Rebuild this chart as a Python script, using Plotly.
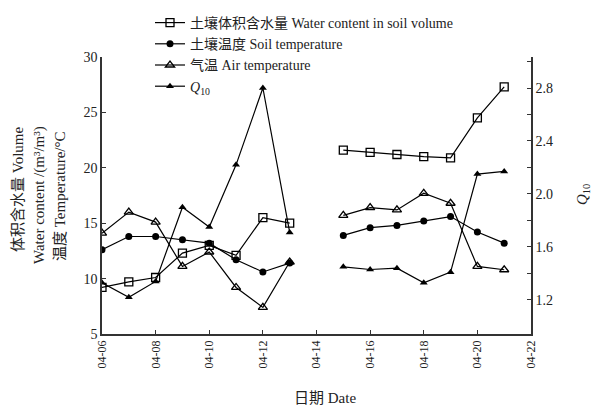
import plotly.graph_objects as go

dates = ["2024-04-06", "2024-04-07", "2024-04-08", "2024-04-09", "2024-04-10", "2024-04-11",
         "2024-04-12", "2024-04-13", "2024-04-14", "2024-04-15", "2024-04-16", "2024-04-17",
         "2024-04-18", "2024-04-19", "2024-04-20", "2024-04-21"]
water_content = [9.2, 9.7, 10.1, 12.3, 13.0, 12.1, 15.5, 15.0, None,
                 21.6, 21.4, 21.2, 21.0, 20.9, 24.5, 27.3]
soil_temp = [12.6, 13.8, 13.8, 13.5, 13.2, 11.7, 10.6, 11.4, None,
             13.9, 14.6, 14.8, 15.2, 15.6, 14.2, 13.2]
air_temp = [14.1, 16.0, 15.1, 11.1, 12.4, 9.2, 7.4, 11.5, None,
            15.7, 16.4, 16.2, 17.7, 16.8, 11.1, 10.8]
q10 = [1.33, 1.22, 1.34, 1.90, 1.75, 2.22, 2.80, 1.71, None,
       1.45, 1.43, 1.44, 1.33, 1.41, 2.15, 2.17]

x_ticks = ["2024-04-06", "2024-04-08", "2024-04-10", "2024-04-12", "2024-04-14",
           "2024-04-16", "2024-04-18", "2024-04-20", "2024-04-22"]
x_tick_labels = ["04-06", "04-08", "04-10", "04-12", "04-14", "04-16", "04-18", "04-20", "04-22"]
left_ticks = [5, 10, 15, 20, 25, 30]
right_ticks = [1.2, 1.6, 2.0, 2.4, 2.8]
right_tick_labels = ["1.2", "1.6", "2.0", "2.4", "2.8"]

FONT = "Liberation Serif, Times New Roman, Noto Sans CJK SC, serif"
TXT = "#222"
line = dict(color="black", width=1.2)

# the page body has an 8px margin; size the figure so it fits the 602x414 window
OFF = 8
W, H = 602 - 2 * OFF, 414 - 2 * OFF
PL, PT, PR, PB = 102, 57, 531, 334          # plot area in window pixels
L, T = PL - OFF, PT - OFF
R, B = (W + OFF) - PR, (H + OFF) - PB
pw, ph = PR - PL, PB - PT


def px(xw):
    return (xw - PL) / pw


def py(yw):
    return 1 - (yw - PT) / ph


fig = go.Figure()
fig.add_trace(go.Scatter(x=dates, y=water_content, mode="lines+markers", line=line,
                         marker=dict(symbol="square-open", size=8, color="black", line=dict(width=1.3)),
                         name="土壤体积含水量 Water content in soil volume", connectgaps=False))
fig.add_trace(go.Scatter(x=dates, y=soil_temp, mode="lines+markers", line=line,
                         marker=dict(symbol="circle", size=7, color="black"),
                         name="土壤温度 Soil temperature", connectgaps=False))
fig.add_trace(go.Scatter(x=dates, y=air_temp, mode="lines+markers", line=line,
                         marker=dict(symbol="triangle-up-open", size=8, color="black", line=dict(width=1.3)),
                         name="气温 Air temperature", connectgaps=False))
fig.add_trace(go.Scatter(x=dates, y=q10, mode="lines+markers", line=line, yaxis="y2",
                         marker=dict(symbol="triangle-up", size=7, color="black"),
                         name="<i>Q</i><sub>10</sub>", connectgaps=False))

axis_common = dict(ticks="inside", ticklen=4, tickcolor="#333", showline=True, linecolor="#333",
                   linewidth=1.5, showgrid=False, zeroline=False, automargin=False)


def ann(text, xw, yw, size, angle=0):
    return dict(text=text, x=px(xw), y=py(yw), xref="paper", yref="paper", showarrow=False,
                xanchor="center", yanchor="middle", textangle=angle, font=dict(size=size))


fig.update_layout(
    width=W, height=H,
    margin=dict(l=L, r=R, t=T, b=B, autoexpand=False),
    paper_bgcolor="white", plot_bgcolor="white",
    font=dict(family=FONT, size=13, color=TXT),
    showlegend=True,
    legend=dict(x=px(150), y=py(7), xanchor="left", yanchor="top",
                bgcolor="rgba(0,0,0,0)", font=dict(size=14, family=FONT, color=TXT),
                tracegroupgap=0, itemwidth=30),
    xaxis=dict(type="date", range=["2024-04-06", "2024-04-22"], tickvals=x_ticks,
               ticktext=x_tick_labels, tickangle=-90, tickfont=dict(size=12), **axis_common),
    yaxis=dict(range=[5, 30], tickvals=left_ticks, tickfont=dict(size=14), **axis_common),
    yaxis2=dict(range=[0.943, 3.034], overlaying="y", side="right", tickvals=right_ticks,
                ticktext=right_tick_labels, tickfont=dict(size=14),
                minor=dict(tickvals=[1.4, 1.8, 2.2, 2.6, 3.0], ticks="inside", ticklen=4, tickcolor="#333"),
                **axis_common),
    annotations=[
        ann("体积含水量 Volume", 18, 190, 15, -90),
        ann("Water content /(m³/m³)", 39, 195, 15, -90),
        ann("温度 Temperature/°C", 60, 196, 15, -90),
        ann("日期 Date", 325, 398, 15),
        ann("<i>Q</i><sub>10</sub>", 583, 195, 15, -90),
    ],
)

fig.write_html("out.html")
